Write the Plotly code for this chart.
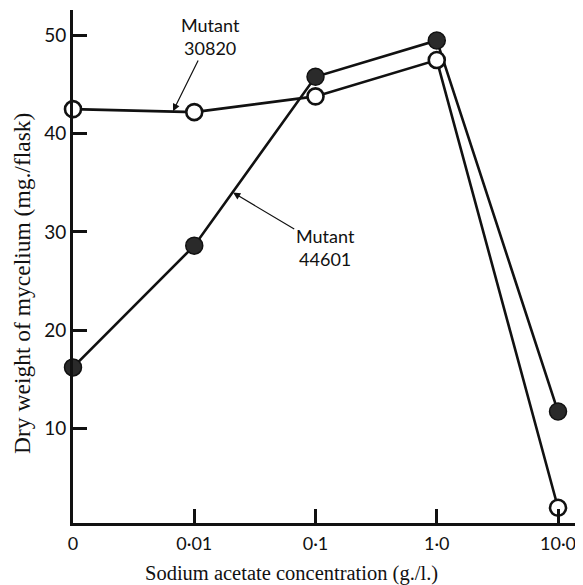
import plotly.graph_objects as go

x_labels = ["0", "0·01", "0·1", "1·0", "10·0"]
x_pos = [0, 1, 2, 3, 4]
mutant_30820 = [42.5, 42.2, 43.8, 47.5, 1.9]
mutant_44601 = [16.2, 28.6, 45.8, 49.5, 11.7]
y_ticks = [10, 20, 30, 40, 50]

fig = go.Figure()

fig.add_trace(go.Scatter(
    x=x_pos, y=mutant_44601, mode="lines+markers", name="Mutant 44601",
    line=dict(color="#111", width=2.6),
    marker=dict(size=17, color="#2a2a2a", line=dict(color="#111", width=1.5)),
    cliponaxis=False, showlegend=False))

fig.add_trace(go.Scatter(
    x=x_pos, y=mutant_30820, mode="lines+markers", name="Mutant 30820",
    line=dict(color="#111", width=2.6),
    marker=dict(size=16, color="white", line=dict(color="#111", width=2.6)),
    cliponaxis=False, showlegend=False))

ann_font = dict(family="Lato", size=18, color="#111")
fig.add_annotation(x=0.825, y=42.3, ax=1.13, ay=49.9, axref="x", ayref="y",
                   text="Mutant<br>30820", showarrow=True, arrowhead=2,
                   arrowsize=1.2, arrowwidth=1.2, arrowcolor="#111", font=ann_font)
fig.add_annotation(x=1.32, y=34.0, ax=2.08, ay=28.4, axref="x", ayref="y",
                   text="Mutant<br>44601", showarrow=True, arrowhead=2,
                   arrowsize=1.2, arrowwidth=1.2, arrowcolor="#111", font=ann_font)

# axis titles as annotations (positioned like the reference)
fig.add_annotation(xref="paper", yref="paper", x=0.4275, y=-0.0975,
                   xanchor="center", yanchor="middle", showarrow=False,
                   text="Sodium acetate concentration (g./l.)",
                   font=dict(family="Liberation Serif", size=20.5, color="#111"))
fig.add_annotation(xref="paper", yref="paper", x=-0.1, y=0.466,
                   xanchor="center", yanchor="middle", showarrow=False, textangle=-90,
                   text="Dry weight of mycelium (mg./flask)",
                   font=dict(family="Liberation Serif", size=23.5, color="#111"))

fig.update_xaxes(
    range=[0, 4.206], tickvals=x_pos, ticktext=x_labels, automargin=False,
    ticks="inside", ticklen=14, tickwidth=2.5, tickcolor="#111",
    showline=True, linecolor="#111", linewidth=3, showgrid=False, zeroline=False,
    tickfont=dict(family="Lato", size=18, color="#111"), ticklabelstandoff=2)

fig.update_yaxes(
    range=[0.35, 52.6], tickvals=y_ticks, automargin=False,
    ticks="inside", ticklen=14, tickwidth=2.5, tickcolor="#111",
    showline=True, linecolor="#111", linewidth=3, showgrid=False, zeroline=False,
    tickfont=dict(family="Lato", size=19, color="#111"), ticklabelstandoff=0)

# page body has an 8px default margin, so the figure is sized to fit the window
fig.update_layout(
    width=575, height=577,
    margin=dict(l=65, r=0, t=2, b=62),
    plot_bgcolor="white", paper_bgcolor="white")

fig.write_html("out.html")
